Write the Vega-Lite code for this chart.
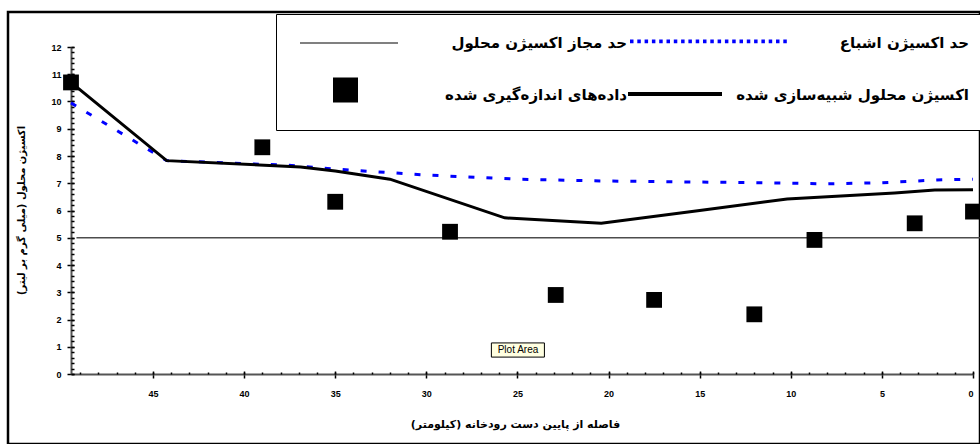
{
  "$schema": "https://vega.github.io/schema/vega-lite/v6.json",
  "autosize": {"type": "none"},
  "padding": {"left": 8, "top": 12, "right": 0, "bottom": 0},
  "width": 972,
  "height": 432,
  "background": "white",
  "datasets": {
    "limit": [{"x": 49.2, "y": 5}, {"x": -1, "y": 5}],
    "sat": [
      {"x": 49.5, "y": 9.95}, {"x": 44.25, "y": 7.83}, {"x": 37.6, "y": 7.66}, {"x": 35, "y": 7.52},
      {"x": 30, "y": 7.3}, {"x": 25, "y": 7.15}, {"x": 20, "y": 7.08}, {"x": 13, "y": 7.03},
      {"x": 8, "y": 6.98}, {"x": 5, "y": 7.02}, {"x": 2, "y": 7.12}, {"x": 0, "y": 7.15}
    ],
    "sim": [
      {"x": 49.5, "y": 10.7}, {"x": 44.25, "y": 7.83}, {"x": 36.9, "y": 7.6}, {"x": 35, "y": 7.45},
      {"x": 32, "y": 7.15}, {"x": 25.7, "y": 5.73}, {"x": 20.4, "y": 5.53}, {"x": 15, "y": 6.0},
      {"x": 10.2, "y": 6.42}, {"x": 4.3, "y": 6.64}, {"x": 2.1, "y": 6.75}, {"x": 0, "y": 6.76}
    ],
    "meas": [
      {"x": 49.5, "y": 10.7}, {"x": 39.0, "y": 8.32}, {"x": 35.0, "y": 6.32}, {"x": 28.7, "y": 5.22},
      {"x": 22.9, "y": 2.9}, {"x": 17.5, "y": 2.72}, {"x": 12.0, "y": 2.19}, {"x": 8.7, "y": 4.92},
      {"x": 3.2, "y": 5.53}, {"x": 0, "y": 5.96}
    ],
    "legend": [
      {"series": "حد مجاز اکسیژن محلول"},
      {"series": "داده\u200cهای اندازه\u200cگیری شده"},
      {"series": "حد اکسیژن اشباع"},
      {"series": "اکسیژن محلول شبیه\u200cسازی شده"}
    ],
    "note": [{"text": "Plot Area", "x": 24.97, "y": 0.88, "xa": 26.43, "xb": 23.52, "ya": 0.62, "yb": 1.14}]
  },
  "layer": [
    {
      "data": {"name": "limit"},
      "mark": {"type": "line", "color": "#4d4d4d", "strokeWidth": 1.5},
      "encoding": {
        "x": {
          "field": "x", "type": "quantitative",
          "scale": {"domain": [0, 49.5], "range": [965, 63], "nice": false, "zero": false},
          "axis": {
            "orient": "bottom", "offset": -70,
            "values": [0, 5, 10, 15, 20, 25, 30, 35, 40, 45],
            "tickSize": 4, "labelPadding": 11,
            "title": "فاصله از پایین دست رودخانه (کیلومتر)\u200f",
            "titleFontSize": 11,
            "titleX": 507, "titleY": 50, "titleBaseline": "middle", "titleAlign": "center"
          }
        },
        "y": {
          "field": "y", "type": "quantitative",
          "scale": {"domain": [0, 12], "range": [362, 35], "nice": false, "zero": false},
          "axis": {
            "orient": "left", "offset": -63,
            "values": [0, 1, 2, 3, 4, 5, 6, 7, 8, 9, 10, 11, 12],
            "tickSize": 4, "labelPadding": 6,
            "title": "اکسیژن محلول (میلی گرم بر لیتر)\u200f",
            "titleX": -50, "titleY": 198, "titleBaseline": "middle", "titleAlign": "center", "titleAngle": -90
          }
        }
      }
    },
    {
      "data": {"name": "sat"},
      "mark": {"type": "line", "color": "#0000FF", "strokeWidth": 3, "strokeDash": [6, 12]},
      "encoding": {
        "x": {
          "field": "x", "type": "quantitative",
          "axis": {
            "orient": "bottom", "offset": -70,
            "values": [0,1,2,3,4,5,6,7,8,9,10,11,12,13,14,15,16,17,18,19,20,21,22,23,24,25,26,27,28,29,30,31,32,33,34,35,36,37,38,39,40,41,42,43,44,45,46,47,48,49],
            "tickSize": -2, "labels": false, "domain": false, "title": null
          }
        },
        "y": {
          "field": "y", "type": "quantitative",
          "axis": {
            "orient": "left", "offset": -63,
            "values": [0,0.2,0.4,0.6,0.8,1,1.2,1.4,1.6,1.8,2,2.2,2.4,2.6,2.8,3,3.2,3.4,3.6,3.8,4,4.2,4.4,4.6,4.8,5,5.2,5.4,5.6,5.8,6,6.2,6.4,6.6,6.8,7,7.2,7.4,7.6,7.8,8,8.2,8.4,8.6,8.8,9,9.2,9.4,9.6,9.8,10,10.2,10.4,10.6,10.8,11,11.2,11.4,11.6,11.8,12],
            "tickSize": -3, "labels": false, "domain": false, "title": null
          }
        }
      }
    },
    {
      "data": {"name": "sim"},
      "mark": {"type": "line", "color": "black", "strokeWidth": 3},
      "encoding": {
        "x": {
          "field": "x", "type": "quantitative",
          "axis": {
            "orient": "bottom", "offset": -70,
            "values": [0, 5, 10, 15, 20, 25, 30, 35, 40, 45],
            "tickSize": -3, "labels": false, "domain": false, "title": null
          }
        },
        "y": {
          "field": "y", "type": "quantitative",
          "axis": {
            "orient": "left", "offset": -63,
            "values": [0, 1, 2, 3, 4, 5, 6, 7, 8, 9, 10, 11, 12],
            "tickSize": -3, "labels": false, "domain": false, "title": null
          }
        }
      }
    },
    {
      "data": {"name": "meas"},
      "mark": {"type": "point", "shape": "square", "filled": true, "color": "black", "size": 250, "opacity": 1},
      "encoding": {
        "x": {"field": "x", "type": "quantitative", "axis": null},
        "y": {"field": "y", "type": "quantitative", "axis": null}
      }
    },
    {
      "data": {"name": "note"},
      "mark": {"type": "rect", "fill": "#FFFFE1", "stroke": "black", "strokeWidth": 1},
      "encoding": {
        "x": {"field": "xa", "type": "quantitative", "axis": null},
        "x2": {"field": "xb"},
        "y": {"field": "ya", "type": "quantitative", "axis": null},
        "y2": {"field": "yb"}
      }
    },
    {
      "data": {"name": "note"},
      "mark": {"type": "text", "font": "Liberation Sans", "fontSize": 10, "color": "black", "align": "center", "baseline": "middle"},
      "encoding": {
        "x": {"field": "x", "type": "quantitative", "axis": null},
        "y": {"field": "y", "type": "quantitative", "axis": null},
        "text": {"field": "text"}
      }
    },
    {
      "data": {"name": "legend"},
      "transform": [{"filter": "false"}],
      "mark": {"type": "point", "filled": true, "opacity": 1},
      "encoding": {
        "color": {
          "field": "series", "type": "nominal",
          "scale": {
            "domain": ["حد مجاز اکسیژن محلول", "داده\u200cهای اندازه\u200cگیری شده", "حد اکسیژن اشباع", "اکسیژن محلول شبیه\u200cسازی شده"],
            "range": ["#808080", "#000000", "#0000FF", "#000000"]
          },
          "legend": {
            "title": null, "orient": "none", "legendX": 268, "legendY": 2,
            "columns": 2, "gridAlign": "each", "padding": 9, "rowPadding": 12, "columnPadding": 0,
            "fillColor": "white", "strokeColor": "black",
            "symbolSize": 1600, "symbolStrokeWidth": 0, "symbolOpacity": 1,
            "labelAlign": "right", "labelOffset": 302, "labelLimit": 420,
            "labelFont": "DejaVu Sans", "labelFontSize": 15, "labelFontWeight": "bold", "labelColor": "black"
          }
        },
        "shape": {
          "field": "series", "type": "nominal",
          "scale": {
            "domain": ["حد مجاز اکسیژن محلول", "داده\u200cهای اندازه\u200cگیری شده", "حد اکسیژن اشباع", "اکسیژن محلول شبیه\u200cسازی شده"],
            "range": [
              "M-1,-1L-1,-1M-1,1L-1,1M-0.25,-0.05H4.65V0.05H-0.25Z",
              "M-1,-1L-1,-1M-1,1.3L-1,1.3M1.4,-0.875H2.65V0.375H1.4Z",
              "M-1,-1L-1,-1M-1,1L-1,1M18,0L18,0M-0.85,-0.17H-0.675V0.01H-0.85ZM-0.485,-0.17H-0.31V0.01H-0.485ZM-0.12,-0.17H0.055V0.01H-0.12ZM0.245,-0.17H0.42V0.01H0.245ZM0.61,-0.17H0.785V0.01H0.61ZM0.975,-0.17H1.15V0.01H0.975ZM1.34,-0.17H1.515V0.01H1.34ZM1.705,-0.17H1.88V0.01H1.705ZM2.07,-0.17H2.245V0.01H2.07ZM2.435,-0.17H2.61V0.01H2.435ZM2.8,-0.17H2.975V0.01H2.8ZM3.165,-0.17H3.34V0.01H3.165ZM3.53,-0.17H3.705V0.01H3.53ZM3.895,-0.17H4.07V0.01H3.895ZM4.26,-0.17H4.435V0.01H4.26ZM4.625,-0.17H4.8V0.01H4.625ZM4.99,-0.17H5.165V0.01H4.99ZM5.355,-0.17H5.53V0.01H5.355ZM5.72,-0.17H5.895V0.01H5.72ZM6.085,-0.17H6.26V0.01H6.085ZM6.45,-0.17H6.625V0.01H6.45ZM6.815,-0.17H6.99V0.01H6.815Z",
              "M-1,-1L-1,-1M-1,1.3L-1,1.3M18,0L18,0M-0.95,-0.15H3.75V0.05H-0.95Z"
            ]
          }
        }
      }
    }
  ],
  "resolve": {"axis": {"x": "independent", "y": "independent"}},
  "config": {
    "view": {"fill": "#FFFFCC", "stroke": "#000000", "strokeWidth": 2.5},
    "axis": {
      "labelFont": "Liberation Sans", "labelFontWeight": "bold", "labelFontSize": 9, "labelColor": "black",
      "titleFont": "DejaVu Sans", "titleFontWeight": "bold", "titleFontSize": 10, "titleColor": "black",
      "tickColor": "black", "tickWidth": 1.5, "domainColor": "#555555", "domainWidth": 2, "grid": false
    }
  }
}
